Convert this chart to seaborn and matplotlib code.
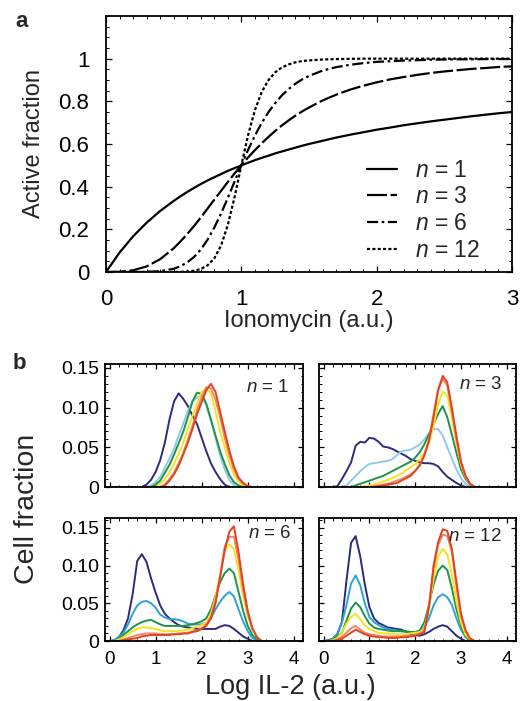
import numpy as np
import pandas as pd
import matplotlib
matplotlib.use("Agg")
import matplotlib.pyplot as plt
from matplotlib.ticker import MultipleLocator
from matplotlib.lines import Line2D
import seaborn as sns

# ---------------- data: panel a ----------------
x_a = [0, 0.1, 0.2, 0.3, 0.4, 0.5, 0.55, 0.6, 0.65, 0.7, 0.75, 0.8, 0.85, 0.9, 0.95,
       1.0, 1.05, 1.1, 1.15, 1.2, 1.25, 1.3, 1.35, 1.4, 1.45, 1.5, 1.6, 1.7, 1.8, 1.9,
       2.0, 2.1, 2.2, 2.3, 2.4, 2.5, 2.6, 2.7, 2.8, 2.9, 3.0]
act_n1 = [0, .091, .167, .231, .286, .333, .355, .375, .394, .412, .429, .444, .459, .474, .487,
          .5, .512, .524, .535, .545, .556, .565, .574, .583, .592, .6, .615, .630, .643, .655,
          .667, .677, .688, .697, .706, .714, .722, .730, .737, .744, .75]
act_n3 = [0, .001, .008, .026, .060, .111, .143, .178, .215, .255, .297, .339, .380, .422, .462,
          .5, .537, .571, .603, .633, .661, .687, .711, .733, .753, .771, .804, .831, .854, .873,
          .889, .903, .914, .924, .933, .940, .946, .952, .956, .961, .964]
act_n6 = [0, 0, 0, .001, .004, .015, .027, .045, .070, .105, .151, .208, .274, .347, .424,
          .5, .573, .639, .698, .749, .792, .828, .858, .883, .903, .919, .944, .960, .971, .979,
          .985, .988, .991, .993, .995, .996, .997, .997, .998, .998, .999]
act_n12 = [0, 0, 0, 0, 0, 0, .001, .002, .006, .014, .031, .064, .124, .220, .351,
           .5, .642, .758, .843, .899, .936, .959, .973, .983, .989, .992, .996, .998, .999, 1.0,
           1.0, 1.0, 1.0, 1.0, 1.0, 1.0, 1.0, 1.0, 1.0, 1.0, 1.0]
hill_labels = ["1", "3", "6", "12"]

# ---------------- data: panel b ----------------
x_b = [-0.2, 0.0, 0.1, 0.2, 0.3, 0.4, 0.5, 0.6, 0.7, 0.8, 0.9, 1.0, 1.1, 1.2, 1.3, 1.4, 1.5,
       1.6, 1.7, 1.8, 1.9, 2.0, 2.1, 2.2, 2.3, 2.4, 2.5, 2.6, 2.7, 2.8, 2.9, 3.0, 3.1, 3.2, 3.3, 4.3]

n1_s1 = [0, 0, 0, 0, 0, 0, 0, 0, 0, .003, .009, .019, .034, .056, .085, .108, .118, .111, .102, .09,
         .079, .062, .045, .03, .019, .01, .003, 0, 0, 0, 0, 0, 0, 0, 0, 0]
n1_s2 = [0, 0, 0, 0, 0, 0, 0, 0, 0, 0, .002, .006, .013, .024, .036, .048, .065, .08, .096, .108,
         .113, .114, .103, .084, .062, .04, .022, .009, .002, 0, 0, 0, 0, 0, 0, 0]
n1_s3 = [0, 0, 0, 0, 0, 0, 0, 0, 0, 0, 0, .003, .008, .018, .028, .041, .055, .07, .088, .108,
         .119, .117, .105, .085, .065, .045, .029, .015, .006, .002, 0, 0, 0, 0, 0, 0]
n1_s4 = [0, 0, 0, 0, 0, 0, 0, 0, 0, 0, 0, 0, .004, .01, .018, .029, .042, .056, .073, .09,
         .105, .12, .124, .118, .096, .07, .05, .031, .016, .007, .002, 0, 0, 0, 0, 0]
n1_s5 = [0, 0, 0, 0, 0, 0, 0, 0, 0, 0, 0, 0, 0, .003, .01, .018, .03, .043, .06, .077,
         .097, .113, .126, .124, .11, .088, .062, .04, .022, .01, .004, .001, 0, 0, 0, 0]
n1_s6 = [0, 0, 0, 0, 0, 0, 0, 0, 0, 0, 0, 0, 0, .002, .008, .016, .027, .041, .056, .073,
         .092, .107, .122, .13, .12, .095, .07, .046, .026, .012, .005, .001, 0, 0, 0, 0]

n3_s1 = [0, 0, 0, 0, .001, .01, .02, .031, .052, .057, .056, .062, .061, .057, .051, .05, .048,
         .045, .042, .039, .035, .033, .031, .03, .03, .029, .026, .019, .013, .009, .005, .002,
         0, 0, 0, 0]
n3_s2 = [0, 0, 0, 0, 0, 0, .002, .008, .014, .02, .025, .029, .03, .031, .032, .033, .035,
         .04, .045, .046, .047, .05, .054, .06, .068, .073, .073, .065, .05, .036, .022, .011,
         .004, 0, 0, 0]
n3_s3 = [0, 0, 0, 0, 0, 0, 0, 0, .002, .004, .006, .008, .01, .012, .014, .017, .02,
         .023, .026, .029, .032, .037, .044, .054, .066, .079, .092, .102, .088, .066, .043, .022,
         .01, .003, 0, 0]
n3_s4 = [0, 0, 0, 0, 0, 0, 0, 0, 0, 0, .001, .002, .003, .005, .007, .009, .011,
         .014, .017, .021, .025, .029, .035, .043, .055, .077, .104, .12, .115, .087, .055, .028,
         .012, .004, 0, 0]
n3_s5 = [0, 0, 0, 0, 0, 0, 0, 0, 0, 0, 0, 0, .001, .002, .003, .004, .006,
         .008, .01, .013, .016, .021, .028, .04, .06, .092, .122, .136, .128, .095, .06, .03,
         .013, .003, 0, 0]
n3_s6 = [0, 0, 0, 0, 0, 0, 0, 0, 0, 0, 0, 0, 0, .001, .002, .003, .004,
         .005, .008, .011, .014, .02, .027, .04, .058, .088, .122, .14, .132, .1, .064, .032,
         .014, .004, 0, 0]

n6_s1 = [0, 0, .001, .005, .014, .03, .062, .106, .115, .105, .083, .064, .047, .036, .03, .025,
         .021, .019, .018, .017, .016, .016, .016, .016, .016, .019, .021, .02, .016, .011, .006,
         .003, 0, 0, 0, 0]
n6_s2 = [0, 0, .001, .005, .011, .022, .036, .047, .052, .053, .05, .044, .035, .031, .029, .029,
         .028, .026, .023, .022, .022, .022, .024, .03, .042, .052, .06, .065, .059, .042, .026,
         .013, .004, 0, 0, 0]
n6_s3 = [0, 0, 0, .003, .008, .013, .018, .022, .025, .027, .028, .025, .022, .02, .02, .02,
         .02, .02, .021, .022, .024, .026, .03, .042, .06, .078, .09, .096, .09, .065, .04,
         .02, .008, .002, 0, 0]
n6_s4 = [0, 0, 0, .002, .005, .009, .013, .016, .018, .018, .017, .016, .014, .013, .013, .013,
         .013, .014, .015, .017, .019, .021, .024, .036, .058, .088, .12, .128, .122, .093, .06,
         .033, .016, .005, 0, 0]
n6_s5 = [0, 0, 0, 0, .002, .004, .006, .008, .009, .01, .01, .01, .009, .009, .009, .009,
         .01, .01, .011, .013, .014, .017, .022, .032, .053, .085, .125, .138, .138, .108, .068,
         .036, .016, .005, 0, 0]
n6_s6 = [0, 0, 0, 0, .001, .002, .003, .004, .006, .007, .008, .008, .008, .008, .008, .009,
         .009, .01, .01, .012, .013, .016, .02, .03, .05, .085, .12, .145, .152, .118, .075,
         .04, .017, .005, 0, 0]

n12_s1 = [0, 0, .001, .003, .009, .025, .08, .13, .139, .112, .075, .045, .03, .024, .021, .018,
          .017, .016, .015, .012, .009, .008, .007, .009, .012, .016, .019, .021, .019, .013, .007,
          .003, 0, 0, 0, 0]
n12_s2 = [0, 0, 0, .003, .01, .024, .048, .076, .087, .074, .05, .032, .025, .021, .018, .016,
          .015, .014, .013, .012, .011, .011, .011, .018, .03, .047, .058, .062, .058, .048, .03,
          .015, .005, 0, 0, 0]
n12_s3 = [0, 0, 0, .002, .006, .011, .027, .043, .051, .045, .033, .023, .018, .016, .015, .014,
          .013, .013, .013, .013, .012, .012, .014, .025, .048, .075, .093, .1, .094, .07, .042,
          .02, .006, 0, 0, 0]
n12_s4 = [0, 0, 0, .001, .004, .012, .023, .032, .036, .029, .021, .016, .013, .011, .01, .01,
          .009, .009, .009, .009, .01, .011, .012, .016, .045, .082, .112, .122, .115, .088, .052,
          .024, .008, .002, 0, 0]
n12_s5 = [0, 0, 0, 0, .002, .006, .011, .017, .02, .015, .011, .009, .008, .007, .006, .006,
          .006, .006, .006, .007, .007, .008, .01, .014, .045, .095, .127, .141, .139, .118, .072,
          .033, .013, .003, 0, 0]
n12_s6 = [0, 0, 0, 0, .001, .003, .007, .011, .015, .012, .009, .007, .006, .005, .005, .004,
          .004, .004, .005, .005, .006, .007, .009, .012, .045, .1, .131, .148, .146, .122, .078,
          .036, .014, .003, 0, 0]

panel_labels = ["1", "3", "6", "12"]

# ---------------- styling ----------------
sns.set_style("ticks")
FONT = ["Liberation Sans", "DejaVu Sans"]
plt.rcParams["font.family"] = FONT
plt.rcParams["mathtext.fontset"] = "custom"
plt.rcParams["mathtext.it"] = "Liberation Sans:italic"
plt.rcParams["mathtext.rm"] = "Liberation Sans"

fig = plt.figure(figsize=(5.27, 7.01), dpi=100)

def style_ticks(ax, size, pad, major_len=4.5, minor_len=2.2):
    ax.tick_params(which="both", direction="in", top=True, right=True, colors="black")
    ax.tick_params(which="major", length=major_len, width=0.9, labelsize=size, pad=pad)
    ax.tick_params(which="minor", length=minor_len, width=0.7)
    for s in ax.spines.values():
        s.set_linewidth(1.3)
        s.set_color("black")

# ---------------- panel a ----------------
axA = fig.add_axes([106/527, 1-272/701, 406/527, 256/701])
styles = ["-", (0, (9, 1.6)), (0, (5, 1.6, 1.2, 1.6)), (0, (1.4, 1.0))]
for yv, ls in zip([act_n1, act_n3, act_n6, act_n12], styles):
    sns.lineplot(x=x_a, y=yv, ax=axA, color="black", linestyle=ls, lw=1.6, sort=False)
axA.set_xlim(0, 3)
axA.set_ylim(0, 1.2)
axA.set_xticks([0, 1, 2, 3])
axA.set_xticklabels(["0", "1", "2", "3"])
axA.set_yticks([0, 0.2, 0.4, 0.6, 0.8, 1.0])
axA.set_yticklabels(["0", "0.2", "0.4", "0.6", "0.8", "1"])
axA.xaxis.set_minor_locator(MultipleLocator(0.1))
axA.yaxis.set_minor_locator(MultipleLocator(0.05))
style_ticks(axA, 16, 12)
axA.set_xlabel("Ionomycin (a.u.)", fontsize=17, labelpad=0)
axA.set_ylabel("Active fraction", fontsize=17, labelpad=10)
handles = [Line2D([], [], color="black", lw=1.6, linestyle=ls) for ls in styles]
axA.legend(handles, [f"$n$ = {v}" for v in hill_labels], frameon=False, fontsize=16.5,
           loc="upper left", bbox_to_anchor=(0.643, 0.443), handlelength=1.31,
           handletextpad=0.8, labelspacing=0.17, borderaxespad=0, borderpad=0)
fig.text(15/527, 1-27/701, "a", fontsize=16, fontweight="bold", ha="left", va="baseline")

# ---------------- panel b ----------------
top_cols = ["#2c2b7d", "#8fcbe9", "#1f934a", "#f3e41c", "#f0876a", "#e5411f"]
bot_cols = ["#2c2b7d", "#2ea1d9", "#1f934a", "#f3e41c", "#f0876a", "#e5411f"]
panels = [
    ([n1_s1, n1_s2, n1_s3, n1_s4, n1_s5, n1_s6], [105, 303, 364, 487], top_cols, 0.155, (0.93, 0.81)),
    ([n3_s1, n3_s2, n3_s3, n3_s4, n3_s5, n3_s6], [319, 516, 364, 487], top_cols, 0.155, (0.93, 0.83)),
    ([n6_s1, n6_s2, n6_s3, n6_s4, n6_s5, n6_s6], [105, 303, 518, 641], bot_cols, 0.163, (0.94, 0.87)),
    ([n12_s1, n12_s2, n12_s3, n12_s4, n12_s5, n12_s6], [319, 516, 518, 641], bot_cols, 0.163, (0.93, 0.85)),
]
for i, (series, (l, r, t, b), cols, ytop, tpos) in enumerate(panels):
    ax = fig.add_axes([l/527, 1-b/701, (r-l)/527, (b-t)/701])
    for yv, c in zip(series, cols):
        sns.lineplot(x=x_b, y=yv, ax=ax, color=c, lw=1.4, sort=False)
    ax.set_xlim(-0.1, 4.2)
    ax.set_ylim(0, ytop)
    ax.set_xticks([0, 1, 2, 3, 4])
    ax.set_yticks([0, 0.05, 0.10, 0.15])
    ax.xaxis.set_minor_locator(MultipleLocator(0.2))
    ax.yaxis.set_minor_locator(MultipleLocator(0.01))
    style_ticks(ax, 14, 4, major_len=3.5, minor_len=1.8)
    if i % 2 == 0:
        ax.set_yticklabels(["0", "0.05", "0.10", "0.15"])
    else:
        ax.set_yticklabels([])
    if i >= 2:
        ax.set_xticklabels(["0", "1", "2", "3", "4"])
        ax.tick_params(axis="x", pad=7, labelsize=13.5)
    else:
        ax.set_xticklabels([])
    ax.text(tpos[0], tpos[1], f"$n$ = {panel_labels[i]}", transform=ax.transAxes,
            ha="right", va="center", fontsize=13.5)

fig.text(27/527, 1-509/701, "Cell fraction", rotation=90, fontsize=20.5, ha="center", va="center")
fig.text(290/527, 1-687/701, "Log IL-2 (a.u.)", fontsize=19.5, ha="center", va="center")
fig.text(13/527, 1-369/701, "b", fontsize=16, fontweight="bold", ha="left", va="baseline")

fig.savefig("out.png", dpi=100)
